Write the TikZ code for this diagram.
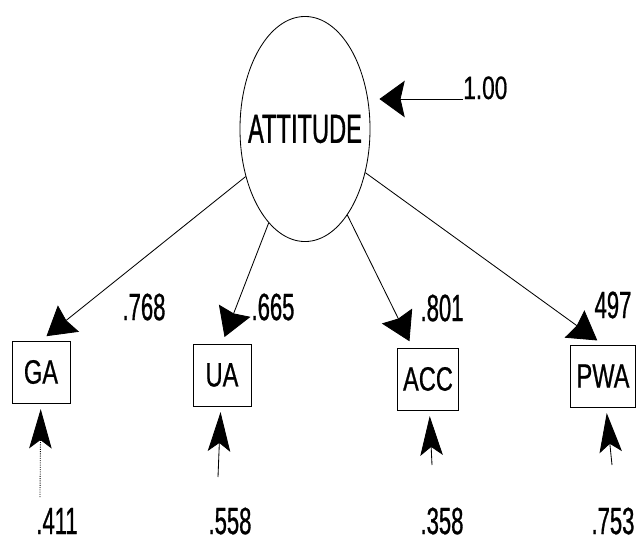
\documentclass[tikz,border=0pt]{standalone}
\usepackage{fontspec}
\setmainfont{Liberation Sans}[FakeStretch=0.58,FakeBold=0.8]
\newfontfamily\boxfont{Liberation Sans}[FakeStretch=0.7,FakeBold=0.6]
\usetikzlibrary{arrows.meta,shapes.geometric}

\tikzset{
  load/.style={-{Stealth[length=20pt,width=24pt,inset=2pt]},line width=0.6pt,shorten >=5pt},
  err/.style={-{Stealth[length=28pt,width=16pt,inset=6pt]},line width=0.6pt,shorten >=4pt},
  fix/.style={-{Stealth[length=18pt,width=26pt,inset=3pt]},line width=0.6pt,shorten >=6.4pt}
}

\begin{document}
\begin{tikzpicture}[x=0.025cm,y=-0.025cm]
		\useasboundingbox (0,0) rectangle (639,541);
		\begin{scope}[every node/.style={ellipse,draw,line width=0.6pt,inner xsep=-14pt,inner ysep=0pt,minimum width=3.25cm,minimum height=5.625cm,font=\fontsize{29}{29}\selectfont}]
			\node (att) at (305,129) {ATTITUDE};
		\end{scope}
		\begin{scope}[every node/.style={rectangle,draw,line width=0.6pt,minimum width=1.45cm,minimum height=1.55cm,inner xsep=4pt,font=\boxfont\fontsize{24}{24}\selectfont}]
			\node (ga) at (41,372) {GA};
			\node (ua) at (222,375) {UA};
			\node (acc) at (428,379) {ACC};
			\node (pwa) at (603,376) {PWA};
		\end{scope}
		\begin{scope}[every node/.style={inner sep=0pt,font=\fontsize{27}{27}\selectfont}]
			\node (l1) at (144,307) {.768};
			\node (l2) at (273,307) {.665};
			\node (l3) at (442,308) {.801};
			\node (l4) at (613,305) {497};
			\node (u1) at (57,521) {.411};
			\node (u2) at (230,521) {.558};
			\node (u3) at (442,521) {.358};
			\node (u4) at (613,521) {.753};
			\node (r) [anchor=base west,font=\boxfont\fontsize{23}{23}\selectfont] at (463,99) {1.00};
		\end{scope}
		\coordinate (e1) at (40,497);
		\coordinate (e2) at (218,477);
		\coordinate (e3) at (432,465);
		\coordinate (e4) at (612,465);

		\path [load] (att) edge (ga.north);
		\path [load] (att) edge (ua.north);
		\path [load] (att) edge (acc);
		\path [load] (att) edge (pwa.north);

		\path [err] (e1) edge [densely dotted] (ga);
		\path [err] (e2) edge (ua);
		\path [err] (e3) edge (acc);
		\path [err] (e4) edge (pwa);

		\path [fix] (r.base west) edge (att.east |- r.base west);
\end{tikzpicture}
\end{document}
